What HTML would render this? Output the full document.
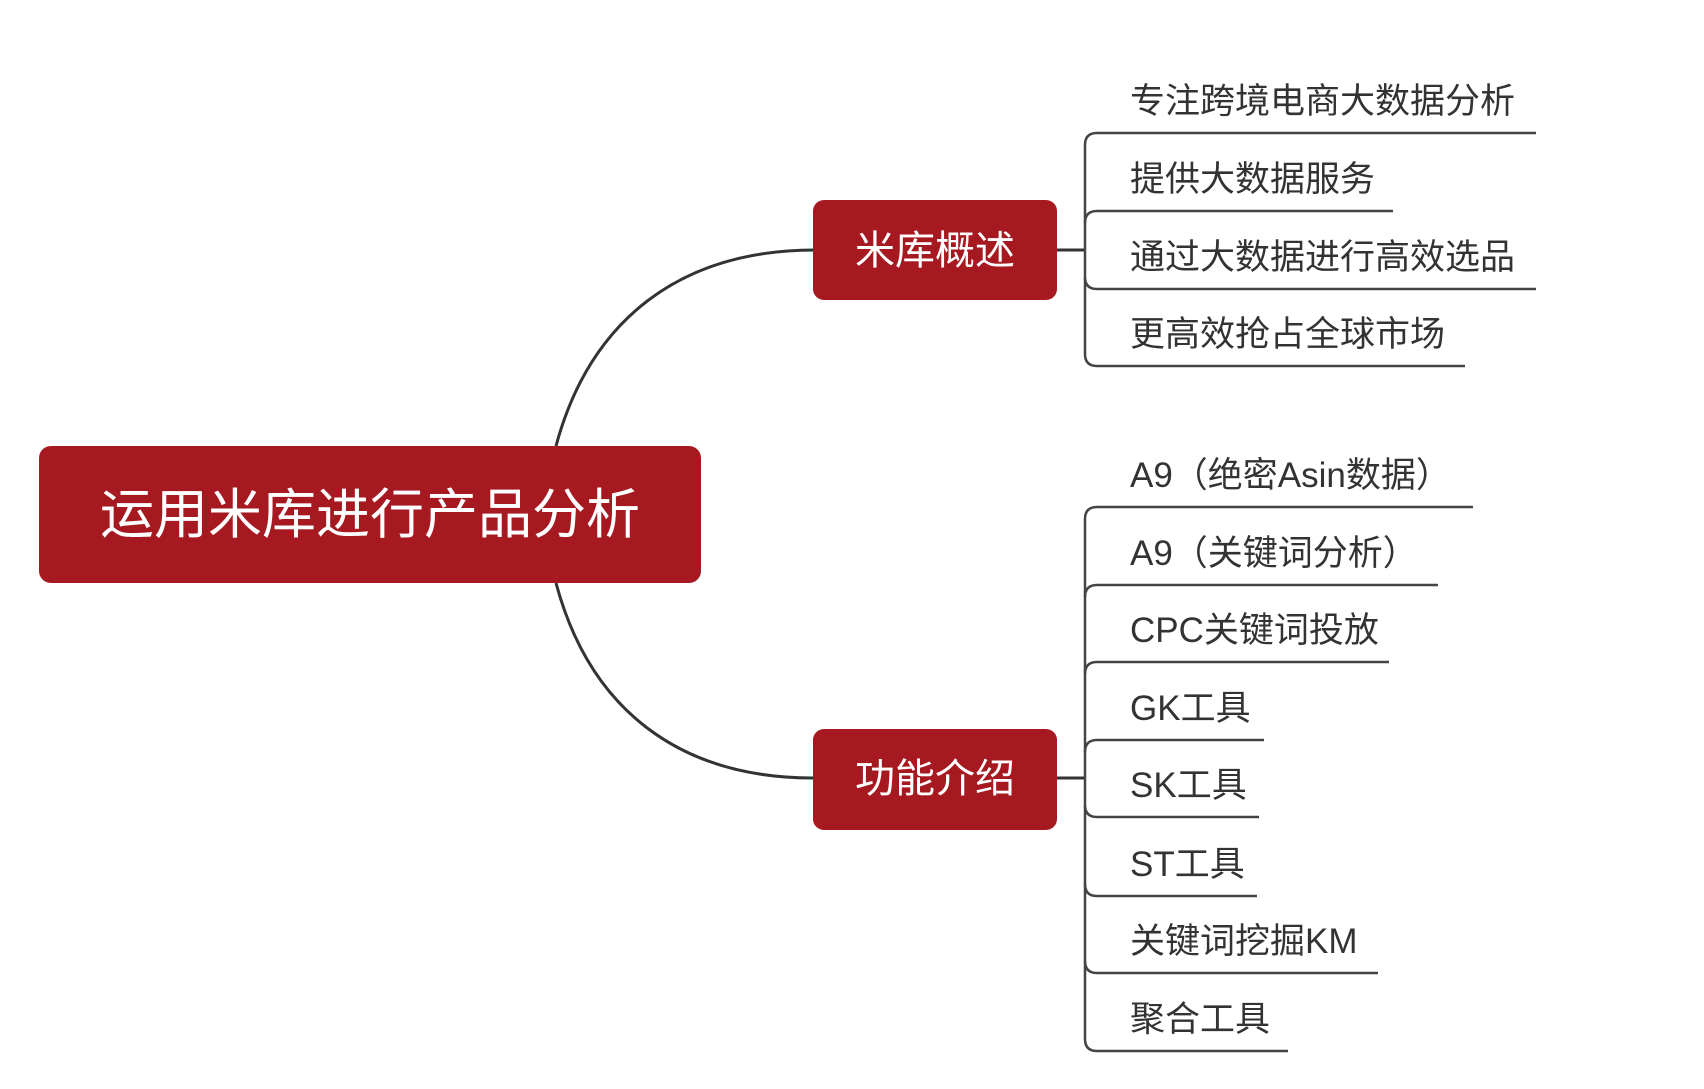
<!DOCTYPE html>
<html><head><meta charset="utf-8"><style>
html,body{margin:0;padding:0;background:#fff;}
svg{display:block;}
.l{font-family:"Liberation Sans","Noto Sans CJK SC",sans-serif;font-size:35px;fill:#333;}
.w{font-family:"Liberation Sans","Noto Sans CJK SC",sans-serif;fill:#fff;text-anchor:middle;}
</style></head><body>
<svg width="1704" height="1089" viewBox="0 0 1704 1089" xmlns="http://www.w3.org/2000/svg">
<g fill="none" stroke="#333" stroke-width="3">
<path d="M556 446 C 590 320, 680 250, 815 250"/>
<path d="M556 583 C 590 710, 680 778, 813 778"/>
<path d="M1057 250 H1085"/>
<path d="M1057 778 H1085"/>
</g>
<g fill="none" stroke="#444" stroke-width="2.5">
<path d="M1536 133 H1097 Q1085 133 1085 145 V354 Q1085 366 1097 366 H1465"/>
<path d="M1393 211 H1097 Q1085 211 1085 223"/>
<path d="M1536 289 H1097 Q1085 289 1085 277"/>
<path d="M1473 507 H1097 Q1085 507 1085 519 V1039 Q1085 1051 1097 1051 H1288"/>
<path d="M1438 585 H1097 Q1085 585 1085 597"/>
<path d="M1389 662 H1097 Q1085 662 1085 674"/>
<path d="M1264 740 H1097 Q1085 740 1085 752"/>
<path d="M1259 817 H1097 Q1085 817 1085 805"/>
<path d="M1257 896 H1097 Q1085 896 1085 884"/>
<path d="M1378 973 H1097 Q1085 973 1085 961"/>
</g>
<rect x="39" y="446" width="662" height="137" rx="12" fill="#a61920"/>
<text class="w" x="370" y="533" font-size="54">运用米库进行产品分析</text>
<rect x="813" y="200" width="244" height="100" rx="11" fill="#a61920"/>
<text class="w" x="935" y="264" font-size="40">米库概述</text>
<rect x="813" y="729" width="244" height="101" rx="11" fill="#a61920"/>
<text class="w" x="935" y="792" font-size="40">功能介绍</text>
<text class="l" x="1130" y="113">专注跨境电商大数据分析</text>
<text class="l" x="1130" y="191">提供大数据服务</text>
<text class="l" x="1130" y="269">通过大数据进行高效选品</text>
<text class="l" x="1130" y="346">更高效抢占全球市场</text>
<text class="l" x="1130" y="487">A9（绝密Asin数据）</text>
<text class="l" x="1130" y="565">A9（关键词分析）</text>
<text class="l" x="1130" y="642">CPC关键词投放</text>
<text class="l" x="1130" y="720">GK工具</text>
<text class="l" x="1130" y="797">SK工具</text>
<text class="l" x="1130" y="876">ST工具</text>
<text class="l" x="1130" y="953">关键词挖掘KM</text>
<text class="l" x="1130" y="1031">聚合工具</text>
</svg>
</body></html>
